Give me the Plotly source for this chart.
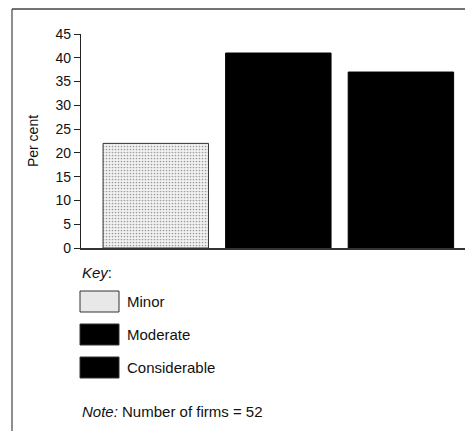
import plotly.graph_objects as go

categories = ["Minor", "Moderate", "Considerable"]
values = [22, 41, 37]
y_ticks = [0, 5, 10, 15, 20, 25, 30, 35, 40, 45]
y_title = "Per cent"
key_title = "Key"
note_text = "Number of firms = 52"

OFF = 8  # page body margin
W, H = 473 - OFF, 431 - OFF
L, R, T, B = 81 - OFF, 472 - OFF, 34 - OFF, 248 - OFF  # plot area in figure pixels
FONT = "Liberation Sans, Arial"


def px(x):
    return (x - OFF - L) / (R - L)


def py(y):
    return (B - (y - OFF)) / (B - T)


fig = go.Figure()
fig.add_trace(go.Bar(
    x=list(range(len(categories))), y=values, width=0.86,
    marker=dict(
        color=["#f2f2f2", "#000000", "#000000"],
        line=dict(color=["#333333", "#000000", "#000000"], width=1),
        pattern=dict(shape=[".", "", ""], fgcolor="#9a9a9a", bgcolor="#f6f6f6",
                     size=3, solidity=0.25, fillmode="overlay"),
    ),
    showlegend=False, hoverinfo="skip",
))

shapes = []
annotations = []
# frame
shapes.append(dict(type="line", xref="paper", yref="paper", x0=px(12), x1=px(474), y0=py(9), y1=py(9),
                   line=dict(color="#444444", width=1.5)))
shapes.append(dict(type="line", xref="paper", yref="paper", x0=px(12), x1=px(12), y0=py(9), y1=py(432),
                   line=dict(color="#444444", width=1.2)))

# key
annotations.append(dict(xref="paper", yref="paper", x=px(80), y=py(272), text="<i>" + key_title + "</i>:",
                        showarrow=False, xanchor="left", yanchor="middle",
                        font=dict(size=15, color="#111", family=FONT)))
box_tops = [291, 324, 357]
fills = ["#e8e8e8", "#000000", "#000000"]
for cat, top, fc in zip(categories, box_tops, fills):
    shapes.append(dict(type="rect", xref="paper", yref="paper", x0=px(80), x1=px(119), y0=py(top), y1=py(top + 21),
                       fillcolor=fc, line=dict(color="#333333", width=1)))
    annotations.append(dict(xref="paper", yref="paper", x=px(125), y=py(top + 10.5), text=cat,
                            showarrow=False, xanchor="left", yanchor="middle",
                            font=dict(size=15, color="#111", family=FONT)))
annotations.append(dict(xref="paper", yref="paper", x=px(80), y=py(412), text="<i>Note:</i> " + note_text,
                        showarrow=False, xanchor="left", yanchor="middle",
                        font=dict(size=15, color="#111", family=FONT)))

fig.update_layout(
    width=W, height=H,
    margin=dict(l=L, r=W - R, t=T, b=H - B, pad=0),
    paper_bgcolor="white", plot_bgcolor="white",
    font=dict(family=FONT, size=14, color="#111"),
    shapes=shapes, annotations=annotations,
    xaxis=dict(range=[-0.61, 2.58], showticklabels=False, ticks="", showgrid=False, zeroline=False,
               showline=True, linecolor="#333", linewidth=1.5),
    yaxis=dict(range=[0, 45], tickvals=y_ticks, ticks="outside", ticklen=6, tickcolor="#222", tickwidth=1,
               showgrid=False, zeroline=False, showline=True, linecolor="#222", linewidth=1.2,
               title=dict(text=y_title, standoff=13, font=dict(size=14)),
               tickfont=dict(size=14)),
)

fig.write_html("out.html")
